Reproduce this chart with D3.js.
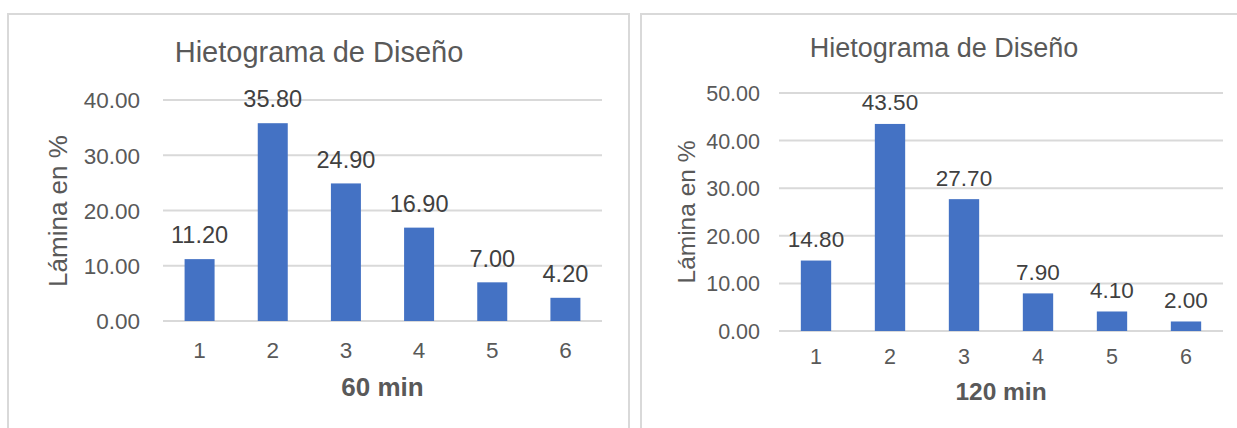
<!DOCTYPE html>
<html>
<head>
<meta charset="utf-8">
<script src="https://cdn.jsdelivr.net/npm/d3@7"></script>
<style>
  html, body { margin: 0; padding: 0; background: #fff; }
  svg { display: block; font-family: "Liberation Sans", Arial, sans-serif; }
</style>
</head>
<body>
<svg id="chart" width="1237" height="428"></svg>
<script>
// Design hyetograph data, two storm durations
const categories = ["1", "2", "3", "4", "5", "6"];
const values60 = [11.2, 35.8, 24.9, 16.9, 7.0, 4.2];
const values120 = [14.8, 43.5, 27.7, 7.9, 4.1, 2.0];
const ticks60 = [0, 10, 20, 30, 40];
const ticks120 = [0, 10, 20, 30, 40, 50];
const chartTitle = "Hietograma de Diseño";
const yTitle = "Lámina en %";
const xTitle60 = "60 min";
const xTitle120 = "120 min";

const BAR = "#4472C4";
const GRID = "#d9d9d9";
const TEXT = "#595959";

const svg = d3.select("#chart");
const fmt = d3.format(".2f");

function drawPanel(p) {
  const g = svg.append("g");

  // chart frame
  g.append("rect")
    .attr("x", p.frame[0]).attr("y", p.frame[1])
    .attr("width", p.frame[2]).attr("height", p.frame[3])
    .attr("fill", "#fff").attr("stroke", GRID).attr("stroke-width", 2);

  const x = d3.scaleBand().domain(categories)
    .range([p.left, p.right]).paddingInner(0.59).paddingOuter(0.295);
  const y = d3.scaleLinear().domain([0, d3.max(p.ticks)])
    .range([p.bottom, p.top]);

  // horizontal gridlines
  g.append("g").selectAll("line").data(p.ticks).join("line")
    .attr("x1", p.left).attr("x2", p.right)
    .attr("y1", d => y(d)).attr("y2", d => y(d))
    .attr("stroke", GRID).attr("stroke-width", 2);

  // y axis labels
  const yAxis = d3.axisLeft(y).tickValues(p.ticks).tickFormat(fmt).tickSize(0).tickPadding(0);
  const ya = g.append("g").attr("transform", `translate(${p.yLabelX},0)`).call(yAxis);
  ya.select(".domain").remove();
  ya.selectAll("text").attr("fill", TEXT).attr("font-size", p.tickSize)
    .attr("font-family", "Liberation Sans, Arial, sans-serif").attr("dy", "0.35em");

  // x axis labels
  const xAxis = d3.axisBottom(x).tickSize(0).tickPadding(0);
  const xa = g.append("g").attr("transform", `translate(0,${p.xLabelY})`).call(xAxis);
  xa.select(".domain").remove();
  xa.selectAll("text").attr("fill", TEXT).attr("font-size", p.tickSize)
    .attr("font-family", "Liberation Sans, Arial, sans-serif").attr("dy", "0.35em");

  // bars
  g.append("g").selectAll("rect").data(p.values).join("rect")
    .attr("x", (d, i) => x(categories[i]))
    .attr("width", x.bandwidth())
    .attr("y", d => y(d))
    .attr("height", d => y(0) - y(d))
    .attr("fill", BAR);

  // value labels above bars
  g.append("g").selectAll("text").data(p.values).join("text")
    .attr("x", (d, i) => x(categories[i]) + x.bandwidth() / 2)
    .attr("y", d => y(d) - p.labelGap)
    .attr("dy", "0.35em")
    .attr("text-anchor", "middle")
    .attr("fill", "#404040")
    .attr("font-size", p.labelSize)
    .text(d => fmt(d));

  // chart title
  g.append("text")
    .attr("x", p.titleX).attr("y", p.titleY).attr("dy", "0.35em")
    .attr("text-anchor", "middle").attr("fill", TEXT)
    .attr("font-size", p.titleSize)
    .text(chartTitle);

  // y axis title
  g.append("text")
    .attr("transform", `translate(${p.yTitleX},${p.yTitleY}) rotate(-90)`)
    .attr("dy", "0.35em")
    .attr("text-anchor", "middle").attr("fill", TEXT)
    .attr("font-size", p.yTitleSize)
    .text(yTitle);

  // x axis title
  g.append("text")
    .attr("x", (p.left + p.right) / 2).attr("y", p.xTitleY).attr("dy", "0.35em")
    .attr("text-anchor", "middle").attr("fill", TEXT)
    .attr("font-size", p.xTitleSize).attr("font-weight", "bold")
    .text(p.xTitle);
}

drawPanel({
  frame: [8, 14, 621, 440],
  left: 163, right: 602, top: 100, bottom: 321,
  ticks: ticks60, values: values60,
  yLabelX: 140, xLabelY: 350,
  tickSize: 22.5, labelSize: 23.5, labelGap: 24,
  titleX: 319, titleY: 52, titleSize: 29,
  yTitleX: 58, yTitleY: 211, yTitleSize: 26,
  xTitle: xTitle60, xTitleY: 387, xTitleSize: 26
});

drawPanel({
  frame: [641, 14, 620, 440],
  left: 779, right: 1223, top: 93, bottom: 331,
  ticks: ticks120, values: values120,
  yLabelX: 760, xLabelY: 356,
  tickSize: 21.5, labelSize: 22.5, labelGap: 21.5,
  titleX: 944, titleY: 48, titleSize: 27,
  yTitleX: 686, yTitleY: 212, yTitleSize: 24.5,
  xTitle: xTitle120, xTitleY: 391, xTitleSize: 24.5
});
</script>
</body>
</html>
